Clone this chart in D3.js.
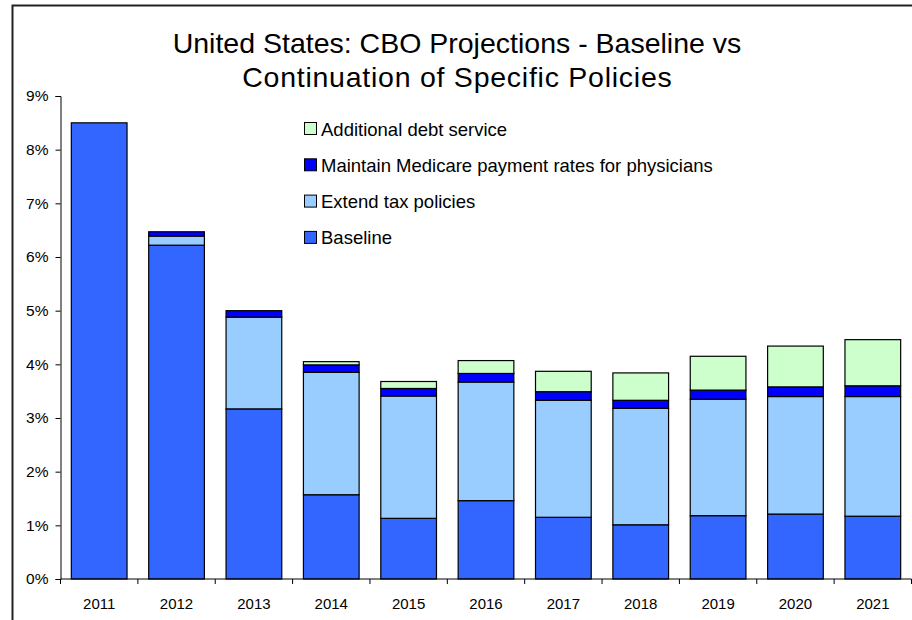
<!DOCTYPE html>
<html>
<head>
<meta charset="utf-8">
<script src="https://cdnjs.cloudflare.com/ajax/libs/d3/7.8.5/d3.min.js"></script>
<style>
  html, body { margin: 0; padding: 0; background: #fff; }
  svg { display: block; font-family: "Liberation Sans", Arial, sans-serif; }
</style>
</head>
<body>
<svg id="chart" width="912" height="620"></svg>
<script>
// Fiscal years on the category axis
const years = ["2011","2012","2013","2014","2015","2016","2017","2018","2019","2020","2021"];

// Deficit components, percent of GDP
const baseline    = [8.50, 6.22, 3.17, 1.57, 1.13, 1.46, 1.15, 1.01, 1.18, 1.21, 1.17];
const taxPolicies = [0.00, 0.17, 1.71, 2.28, 2.28, 2.21, 2.18, 2.17, 2.17, 2.19, 2.23];
const medicare    = [0.00, 0.08, 0.12, 0.14, 0.14, 0.16, 0.16, 0.15, 0.17, 0.18, 0.20];
const debtService = [0.00, 0.00, 0.00, 0.06, 0.13, 0.24, 0.38, 0.51, 0.63, 0.76, 0.86];

const seriesNames = ["Baseline", "Extend tax policies", "Maintain Medicare payment rates for physicians", "Additional debt service"];
const seriesColors = ["#3366FF", "#99CCFF", "#0000FF", "#CCFFCC"];
const yTicks = [0, 1, 2, 3, 4, 5, 6, 7, 8, 9];

const rows = years.map((y, i) => ({
  year: y,
  "Baseline": baseline[i],
  "Extend tax policies": taxPolicies[i],
  "Maintain Medicare payment rates for physicians": medicare[i],
  "Additional debt service": debtService[i]
}));

const svg = d3.select("#chart");

// Chart area frame
svg.append("rect")
  .attr("x", 12.5).attr("y", 5.5)
  .attr("width", 920).attr("height", 640)
  .attr("fill", "none").attr("stroke", "#222").attr("stroke-width", 2);

const plot = { left: 60.5, right: 911.5, top: 96, bottom: 579 };

const x = d3.scaleBand().domain(years)
  .range([plot.left, plot.right])
  .paddingInner(0.28).paddingOuter(0.14);

const y = d3.scaleLinear().domain([0, 9]).range([plot.bottom, plot.top]);

const layers = d3.stack().keys(seriesNames)(rows);

svg.append("g").selectAll("g.layer")
  .data(layers)
  .join("g")
  .attr("class", "layer")
  .attr("fill", (d, i) => seriesColors[i])
  .selectAll("rect")
  .data(d => d.filter(p => p[1] - p[0] > 0))
  .join("rect")
  .attr("x", d => x(d.data.year))
  .attr("width", x.bandwidth())
  .attr("y", d => y(d[1]))
  .attr("height", d => y(d[0]) - y(d[1]))
  .attr("stroke", "#000")
  .attr("stroke-width", 1.2);

// Y axis
const yAxis = d3.axisLeft(y)
  .tickValues(yTicks)
  .tickFormat(d => d + "%")
  .tickSize(5)
  .tickPadding(7);
const ya = svg.append("g").attr("transform", `translate(${plot.left},0)`).call(yAxis);
ya.select(".domain").attr("stroke", "#000");
ya.selectAll(".tick line").attr("stroke", "#000");
ya.selectAll(".tick text").attr("font-size", 15.5).attr("fill", "#000")
  .attr("font-family", "Liberation Sans, Arial, sans-serif");

// X axis: ticks sit between categories
const xa = svg.append("g").attr("transform", `translate(0,${plot.bottom})`);
xa.append("line")
  .attr("x1", plot.left).attr("x2", plot.right)
  .attr("stroke", "#000");
const step = x.step();
const boundaries = years.map(d => x(d) - x.paddingInner() * step / 2).concat([plot.right]);
boundaries[0] = plot.left;
xa.selectAll("line.tick")
  .data(boundaries)
  .join("line")
  .attr("class", "tick")
  .attr("x1", d => d).attr("x2", d => d)
  .attr("y1", 0).attr("y2", 5)
  .attr("stroke", "#000");
xa.selectAll("text")
  .data(years)
  .join("text")
  .attr("x", d => x(d) + x.bandwidth() / 2)
  .attr("y", 30)
  .attr("text-anchor", "middle")
  .attr("font-size", 15)
  .text(d => d);

// Title
const title = svg.append("text")
  .attr("text-anchor", "middle")
  .attr("font-size", 28.5).attr("fill", "#000");
title.append("tspan").attr("x", 457).attr("y", 53).text("United States: CBO Projections - Baseline vs");
title.append("tspan").attr("x", 457.4).attr("y", 87)
  .attr("letter-spacing", 0.75)
  .text("Continuation of Specific Policies");

// Legend (top entry drawn first, stacking order reversed)
const legendOrder = seriesNames.map((n, i) => ({ name: n, color: seriesColors[i] })).reverse();
const lg = svg.append("g").attr("transform", "translate(304,0)");
const lgRows = lg.selectAll("g")
  .data(legendOrder)
  .join("g")
  .attr("transform", (d, i) => `translate(0,${129 + i * 36.3})`);
lgRows.append("rect")
  .attr("x", 0.5).attr("y", -6.5).attr("width", 12).attr("height", 12)
  .attr("fill", d => d.color).attr("stroke", "#000");
lgRows.append("text")
  .attr("x", 17).attr("y", 6.5)
  .attr("font-size", 18.5)
  .text(d => d.name);
</script>
</body>
</html>
